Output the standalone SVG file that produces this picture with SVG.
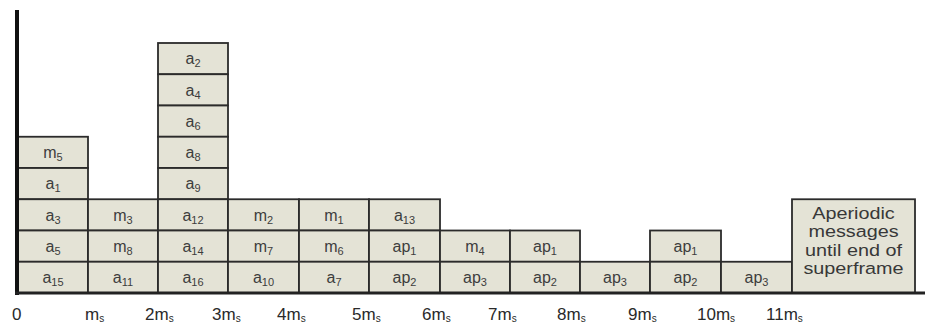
<svg xmlns="http://www.w3.org/2000/svg" width="925" height="324" viewBox="0 0 925 324">
<style>
.c{fill:#e4e3d6;stroke:#2b2b2b;stroke-width:1.8}
.t{font-family:"Liberation Sans",Arial,sans-serif;font-size:16px;fill:#3d3d3d;text-anchor:middle}
.s{font-size:11px}
.ax{font-family:"Liberation Sans",Arial,sans-serif;font-size:17px;fill:#2a2a2a}
.ax .s{font-size:10px}
.big{font-family:"Liberation Sans",Arial,sans-serif;font-size:16.5px;fill:#383838;text-anchor:middle}
</style>
<rect width="925" height="324" fill="#fff"/>
<g id="col0">
<rect class="c" x="18" y="136.75" width="70" height="31.25"/><text class="t" x="53" y="158">m<tspan class="s" dy="3">5</tspan></text>
<rect class="c" x="18" y="168" width="70" height="31.25"/><text class="t" x="53" y="189">a<tspan class="s" dy="3">1</tspan></text>
<rect class="c" x="18" y="199.25" width="70" height="31.25"/><text class="t" x="53" y="220.5">a<tspan class="s" dy="3">3</tspan></text>
<rect class="c" x="18" y="230.5" width="70" height="31.25"/><text class="t" x="53" y="251.5">a<tspan class="s" dy="3">5</tspan></text>
<rect class="c" x="18" y="261.75" width="70" height="31.25"/><text class="t" x="53" y="283">a<tspan class="s" dy="3">15</tspan></text>
</g>
<g id="col1">
<rect class="c" x="88" y="199.25" width="70" height="31.25"/><text class="t" x="123" y="220.5">m<tspan class="s" dy="3">3</tspan></text>
<rect class="c" x="88" y="230.5" width="70" height="31.25"/><text class="t" x="123" y="251.5">m<tspan class="s" dy="3">8</tspan></text>
<rect class="c" x="88" y="261.75" width="70" height="31.25"/><text class="t" x="123" y="283">a<tspan class="s" dy="3">11</tspan></text>
</g>
<g id="col2">
<rect class="c" x="158" y="43" width="70" height="31.25"/><text class="t" x="193" y="64">a<tspan class="s" dy="3">2</tspan></text>
<rect class="c" x="158" y="74.25" width="70" height="31.25"/><text class="t" x="193" y="95.5">a<tspan class="s" dy="3">4</tspan></text>
<rect class="c" x="158" y="105.5" width="70" height="31.25"/><text class="t" x="193" y="126.5">a<tspan class="s" dy="3">6</tspan></text>
<rect class="c" x="158" y="136.75" width="70" height="31.25"/><text class="t" x="193" y="158">a<tspan class="s" dy="3">8</tspan></text>
<rect class="c" x="158" y="168" width="70" height="31.25"/><text class="t" x="193" y="189">a<tspan class="s" dy="3">9</tspan></text>
<rect class="c" x="158" y="199.25" width="70" height="31.25"/><text class="t" x="193" y="220.5">a<tspan class="s" dy="3">12</tspan></text>
<rect class="c" x="158" y="230.5" width="70" height="31.25"/><text class="t" x="193" y="251.5">a<tspan class="s" dy="3">14</tspan></text>
<rect class="c" x="158" y="261.75" width="70" height="31.25"/><text class="t" x="193" y="283">a<tspan class="s" dy="3">16</tspan></text>
</g>
<g id="col3">
<rect class="c" x="228" y="199.25" width="71" height="31.25"/><text class="t" x="263.5" y="220.5">m<tspan class="s" dy="3">2</tspan></text>
<rect class="c" x="228" y="230.5" width="71" height="31.25"/><text class="t" x="263.5" y="251.5">m<tspan class="s" dy="3">7</tspan></text>
<rect class="c" x="228" y="261.75" width="71" height="31.25"/><text class="t" x="263.5" y="283">a<tspan class="s" dy="3">10</tspan></text>
</g>
<g id="col4">
<rect class="c" x="299" y="199.25" width="70" height="31.25"/><text class="t" x="334" y="220.5">m<tspan class="s" dy="3">1</tspan></text>
<rect class="c" x="299" y="230.5" width="70" height="31.25"/><text class="t" x="334" y="251.5">m<tspan class="s" dy="3">6</tspan></text>
<rect class="c" x="299" y="261.75" width="70" height="31.25"/><text class="t" x="334" y="283">a<tspan class="s" dy="3">7</tspan></text>
</g>
<g id="col5">
<rect class="c" x="369" y="199.25" width="71" height="31.25"/><text class="t" x="404.5" y="220.5">a<tspan class="s" dy="3">13</tspan></text>
<rect class="c" x="369" y="230.5" width="71" height="31.25"/><text class="t" x="404.5" y="251.5">ap<tspan class="s" dy="3">1</tspan></text>
<rect class="c" x="369" y="261.75" width="71" height="31.25"/><text class="t" x="404.5" y="283">ap<tspan class="s" dy="3">2</tspan></text>
</g>
<g id="col6">
<rect class="c" x="440" y="230.5" width="70" height="31.25"/><text class="t" x="475" y="251.5">m<tspan class="s" dy="3">4</tspan></text>
<rect class="c" x="440" y="261.75" width="70" height="31.25"/><text class="t" x="475" y="283">ap<tspan class="s" dy="3">3</tspan></text>
</g>
<g id="col7">
<rect class="c" x="510" y="230.5" width="70" height="31.25"/><text class="t" x="545" y="251.5">ap<tspan class="s" dy="3">1</tspan></text>
<rect class="c" x="510" y="261.75" width="70" height="31.25"/><text class="t" x="545" y="283">ap<tspan class="s" dy="3">2</tspan></text>
</g>
<g id="col8">
<rect class="c" x="580" y="261.75" width="70" height="31.25"/><text class="t" x="615" y="283">ap<tspan class="s" dy="3">3</tspan></text>
</g>
<g id="col9">
<rect class="c" x="650" y="230.5" width="71" height="31.25"/><text class="t" x="685.5" y="251.5">ap<tspan class="s" dy="3">1</tspan></text>
<rect class="c" x="650" y="261.75" width="71" height="31.25"/><text class="t" x="685.5" y="283">ap<tspan class="s" dy="3">2</tspan></text>
</g>
<g id="col10">
<rect class="c" x="721" y="261.75" width="71" height="31.25"/><text class="t" x="756.5" y="283">ap<tspan class="s" dy="3">3</tspan></text>
</g>
<g id="aperiodic">
<rect class="c" x="792" y="199.25" width="123" height="93.75"/>
<text class="big" transform="translate(853.5 0) scale(1.2 1)" x="0" y="219">Aperiodic</text>
<text class="big" transform="translate(853.5 0) scale(1.2 1)" x="0" y="237.5">messages</text>
<text class="big" transform="translate(853.5 0) scale(1.2 1)" x="0" y="256">until end of</text>
<text class="big" transform="translate(853.5 0) scale(1.2 1)" x="0" y="274.5">superframe</text>
</g>
<g id="connectors">
<line x1="17" y1="10" x2="17" y2="295" stroke="#111" stroke-width="4"/>
<line x1="15" y1="293" x2="925" y2="293" stroke="#222" stroke-width="3"/>
</g>
<g id="axis" class="ax">
<text x="12" y="320">0</text>
<text x="85" y="320">m<tspan class="s" dy="2">s</tspan></text>
<text x="145" y="320">2m<tspan class="s" dy="2">s</tspan></text>
<text x="212" y="320">3m<tspan class="s" dy="2">s</tspan></text>
<text x="277" y="320">4m<tspan class="s" dy="2">s</tspan></text>
<text x="352" y="320">5m<tspan class="s" dy="2">s</tspan></text>
<text x="422" y="320">6m<tspan class="s" dy="2">s</tspan></text>
<text x="488" y="320">7m<tspan class="s" dy="2">s</tspan></text>
<text x="557" y="320">8m<tspan class="s" dy="2">s</tspan></text>
<text x="628" y="320">9m<tspan class="s" dy="2">s</tspan></text>
<text x="697" y="320">10m<tspan class="s" dy="2">s</tspan></text>
<text x="766" y="320">11m<tspan class="s" dy="2">s</tspan></text>
</g>
</svg>
